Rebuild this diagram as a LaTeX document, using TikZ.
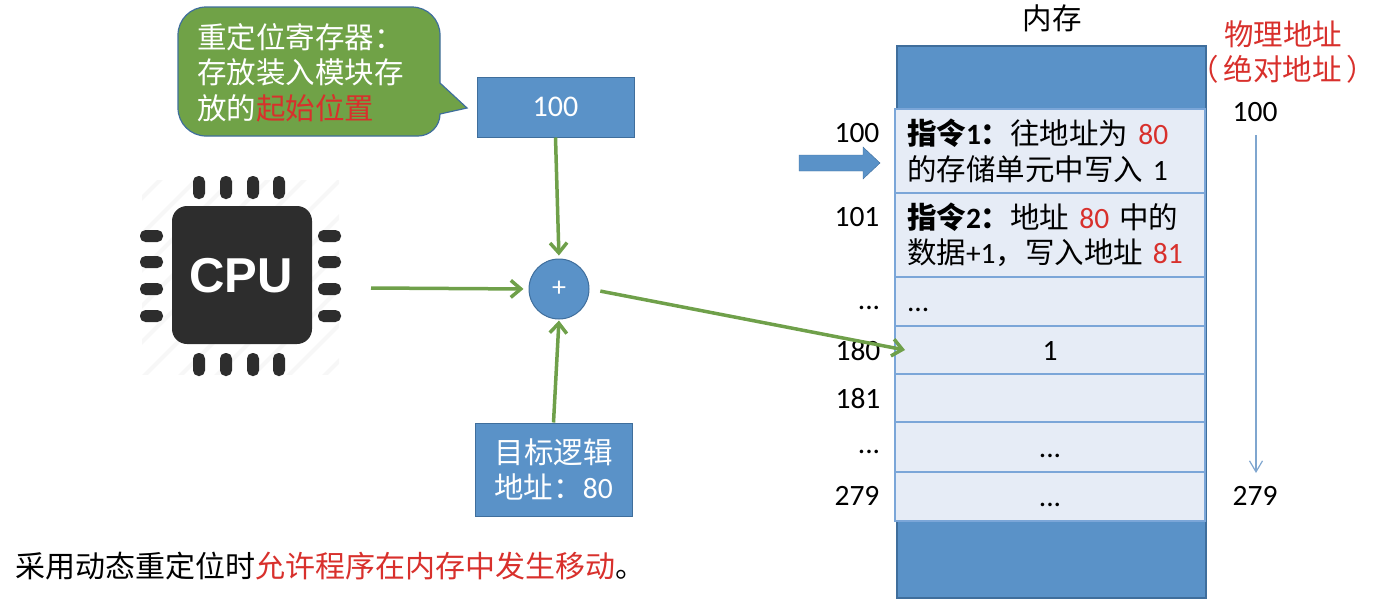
\documentclass[tikz,border=0pt]{standalone}
\usepackage{fontspec}
\setmainfont{Carlito}
\newfontfamily\cjk{Noto Sans CJK SC}
\newfontfamily\cpufont{Liberation Sans}
\newcommand{\zh}[1]{{\cjk #1}}
\newcommand{\lowered}[1]{\raisebox{-3pt}[\ht\strutbox][\dp\strutbox]{#1}}
\usetikzlibrary{arrows.meta}
\definecolor{blk}{HTML}{5A92C8}
\definecolor{blkline}{HTML}{3F6E9C}
\definecolor{cellfill}{HTML}{E6ECF6}
\definecolor{cellline}{HTML}{7BA6D8}
\definecolor{grn}{HTML}{70A247}
\definecolor{grnline}{HTML}{6FA04A}
\definecolor{rd}{HTML}{D8302C}
\definecolor{chip}{HTML}{2D2D2D}
\definecolor{axisc}{HTML}{7FA6CF}
\tikzset{
  big/.style={font=\fontsize{29.5}{35.5}\selectfont},
  blkbox/.style={draw=blkline,line width=1pt,fill=blk,text=white,big,align=center,inner sep=0pt},
  cellbox/.style={draw=cellline,line width=1.6pt,fill=cellfill,minimum width=310pt,inner sep=0pt,big,
     text width=286pt,align=left},
  lbl/.style={big,text=black,inner sep=0pt},
  flow/.style={draw=grnline,line width=3.5pt,-{Straight Barb[length=10pt,width=17pt,line width=3.5pt]}},
}
\begin{document}
\begin{tikzpicture}[x=1pt,y=-1pt]
\useasboundingbox (0,0) rectangle (1376,603);
% CPU icon
\begin{scope}
  \clip (142,180) rectangle (339,374);
  \foreach \c in {340,376,...,720} {
    \draw[line width=4pt,black!3] (100,\c-100) -- (380,\c-380);
  }
\end{scope}
\fill[chip,rounded corners=15pt] (172,206) rectangle (312,344);
\foreach \x in {199,226,253,279} {
  \fill[chip,rounded corners=5.5pt] (\x-6,176) rectangle (\x+6,199);
  \fill[chip,rounded corners=5.5pt] (\x-6,353) rectangle (\x+6,376);
}
\foreach \y in {236,262,289,316} {
  \fill[chip,rounded corners=5.5pt] (140,\y-6) rectangle (163,\y+6);
  \fill[chip,rounded corners=5.5pt] (318,\y-6) rectangle (341,\y+6);
}
\node[text=white,inner sep=0pt,font=\cpufont\bfseries\fontsize{49}{49}\selectfont] (cpu) at (241,276) {CPU};
% callout
\draw[draw=blkline,line width=1.2pt,fill=grn]
  (206,7) -- (412,7) arc[start angle=90,end angle=0,radius=28pt] -- (440,83) -- (467,108) -- (440,114)
  arc[start angle=0,end angle=-90,radius=22pt] -- (206,136)
  arc[start angle=-90,end angle=-180,radius=28pt] -- (178,35)
  arc[start angle=180,end angle=90,radius=28pt] -- cycle;
\node[big,text=white,anchor=north west,inner sep=0pt,align=left] (note) at (197,23)
  {\zh{重定位寄存器：}\\\zh{存放装入模块存}\\\zh{放的}\textcolor{rd}{\zh{起始位置}}};
% blocks
\node[blkbox,minimum width=157pt,minimum height=60pt,font=\fontsize{30}{30}\selectfont] (base) at (555.5,107) {100};
\node[blkbox,circle,minimum size=60pt,draw=blkline,font=\fontsize{28}{28}\selectfont] (add) at (559,289) {+};
\node[blkbox,minimum width=157pt,minimum height=93pt] (logic) at (553.5,469.5) {\zh{目标逻辑}\\\zh{地址：}80};
% memory
\node[draw=blkline,line width=1.2pt,fill=blk,minimum width=309pt,minimum height=552pt,inner sep=0pt] (mem) at (1051.5,322) {};
\node[lbl] (memt) at (1052,18) {\zh{内存}};
\node[cellbox,minimum height=84pt] (c1) at (1050,151)
  {{\bfseries\zh{指令}1\zh{：}}\zh{往地址为} \textcolor{rd}{80}\\\zh{的存储单元中写入} 1};
\node[cellbox,minimum height=84pt] (c2) at (1050,235)
  {{\bfseries\zh{指令}2\zh{：}}\zh{地址} \textcolor{rd}{80} \zh{中的}\\\zh{数据}+1\zh{，写入地址} \textcolor{rd}{81}};
\node[cellbox,minimum height=49pt] (c3) at (1050,301.5) {\lowered{...}};
\node[cellbox,minimum height=48pt,align=center] (c4) at (1050,350) {\lowered{1}};
\node[cellbox,minimum height=48.5pt,align=center] (c5) at (1050,398) {};
\node[cellbox,minimum height=49.5pt,align=center] (c6) at (1050,447) {\lowered{...}};
\node[cellbox,minimum height=49pt,align=center] (c7) at (1050,496.5) {\lowered{...}};
% address labels
\node[lbl] (a100) at (857,133) {100};
\node[lbl] (a101) at (857,217) {101};
\node[lbl] (adots) at (869,302) {\strut...};
\node[lbl] (a180) at (858,351) {180};
\node[lbl] (a181) at (858,399) {181};
\node[lbl] (adotsb) at (869,446) {\strut...};
\node[lbl] (a279) at (857,496) {279};
\node[lbl,text=rd,align=center] (phys) at (1283,52) {\zh{物理地址}\\\zh{（}\hspace{5pt}\zh{绝对地址}\hspace{5pt}\zh{）}};
\node[lbl] (p100) at (1255,112) {100};
\node[lbl] (p279) at (1255,496) {279};
% pointer arrow
\fill[blk,draw=blkline,line width=.4pt] (799,155) -- (863,155) -- (863,147) -- (880,163) -- (863,179) -- (863,171) -- (799,171) -- cycle;
% address axis
\draw[axisc,line width=1.2pt,-{Straight Barb[length=11pt,width=13pt]}] (p100.south) ++(1,13) coordinate (axs) -- (1256,473) coordinate (axe);
% connectors
\coordinate (cpuout) at (371,288);
\coordinate (tip) at (905,350);
\draw[flow,shorten >=3pt] (base.south) -- (add.north);
\draw[flow,shorten >=5pt] (cpuout) -- (add.west);
\draw[flow,shorten >=1pt] (logic.north) -- (add.south);
\draw[flow,shorten <=11pt] (add.east) -- (tip);
% bottom line
\node[lbl,anchor=west,font=\fontsize{30}{30}\selectfont] (foot) at (15,566) {\zh{采用动态重定位时}\textcolor{rd}{\zh{允许程序在内存中发生移动}}\zh{。}};
\end{tikzpicture}
\end{document}
